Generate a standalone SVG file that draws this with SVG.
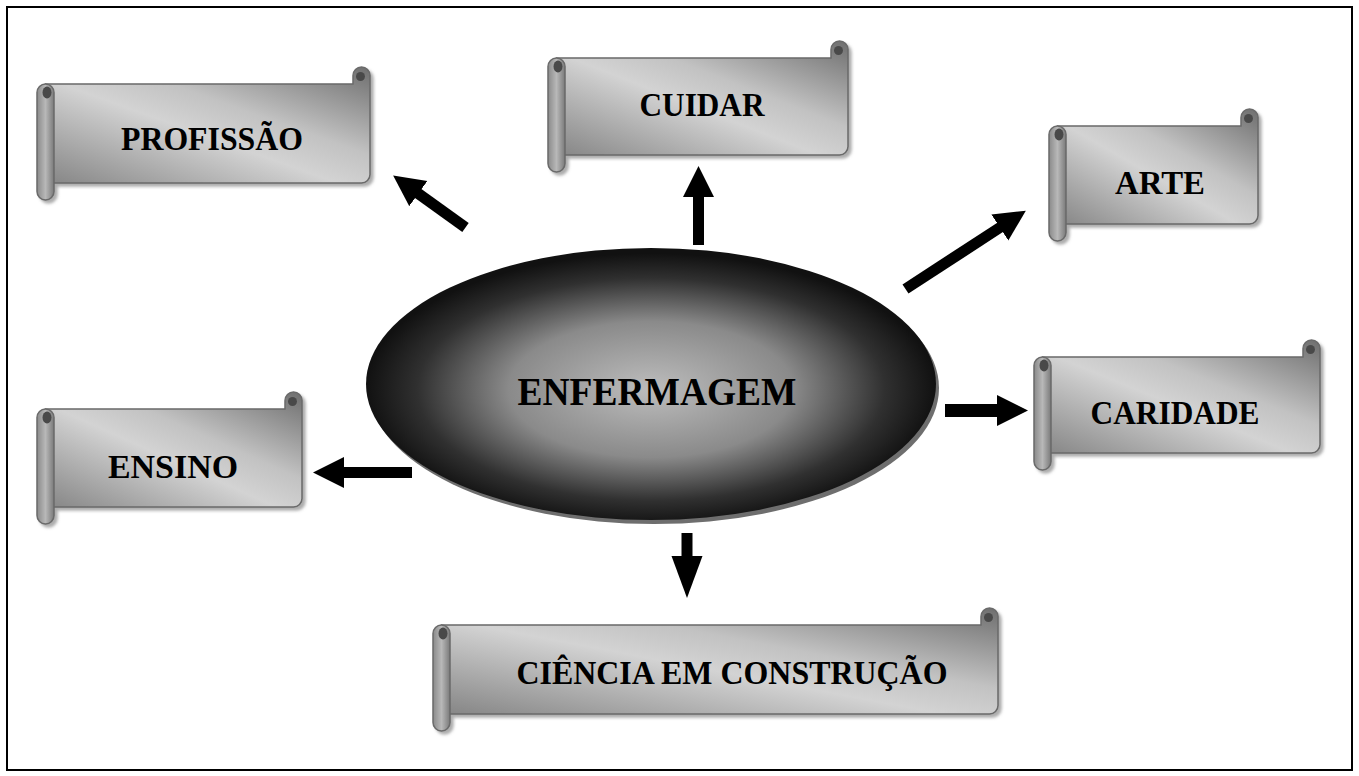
<svg xmlns="http://www.w3.org/2000/svg" width="1359" height="776" viewBox="0 0 1359 776">
<defs>
<linearGradient id="bodyG" x1="0" y1="1" x2="1" y2="0">
<stop offset="0" stop-color="#858585"/>
<stop offset="0.45" stop-color="#d3d3d3"/>
<stop offset="0.62" stop-color="#c2c2c2"/>
<stop offset="1" stop-color="#6e6e6e"/>
</linearGradient>
<linearGradient id="rollG" x1="0" y1="0" x2="1" y2="0">
<stop offset="0" stop-color="#8a8a8a"/>
<stop offset="0.5" stop-color="#b8b8b8"/>
<stop offset="1" stop-color="#7a7a7a"/>
</linearGradient>
<radialGradient id="ellG" cx="0.5" cy="0.52" r="0.5">
<stop offset="0" stop-color="#bdbdbd"/>
<stop offset="0.5" stop-color="#8a8a8a"/>
<stop offset="0.82" stop-color="#303030"/>
<stop offset="1" stop-color="#111"/>
</radialGradient>
<filter id="sh" x="-5%" y="-5%" width="115%" height="120%">
<feDropShadow dx="3" dy="3" stdDeviation="1.5" flood-color="#777" flood-opacity="0.6"/>
</filter>
<marker id="ah" markerUnits="userSpaceOnUse" markerWidth="32" markerHeight="32" viewBox="0 0 32 32" refX="1" refY="16" orient="auto">
<path d="M0,0.5 L31,16 L0,31.5 Z" fill="#000"/>
</marker>
<marker id="ahL" markerUnits="userSpaceOnUse" markerWidth="43" markerHeight="32" viewBox="0 0 43 32" refX="1" refY="16" orient="auto">
<path d="M0,0.5 L42,16 L0,31.5 Z" fill="#000"/>
</marker>
</defs>
<style>
.body{fill:url(#bodyG);stroke:#6a6a6a;stroke-width:1.5}
.roll{fill:url(#rollG);stroke:#6a6a6a;stroke-width:1.5}
.spiral{fill:#4a4a4a}
.lbl{font-family:"Liberation Serif","Times New Roman",serif;font-weight:bold;font-size:34px;fill:#000;text-anchor:middle}
.arr{stroke:#000;stroke-width:11;fill:none;stroke-linecap:butt}
</style>
<rect x="0" y="0" width="1359" height="776" fill="#fff"/>
<rect x="7" y="7" width="1345" height="763" fill="none" stroke="#000" stroke-width="2"/>

<g id="node-enfermagem">
<ellipse cx="654" cy="388" rx="285" ry="136" fill="#6e6e6e"/>
<ellipse cx="651" cy="384" rx="285" ry="136" fill="url(#ellG)"/>
<text x="657" y="405" class="lbl" style="font-size:41px" textLength="279" lengthAdjust="spacingAndGlyphs">ENFERMAGEM</text>
</g>

<g id="node-profissao">
<g transform="translate(37,67)" filter="url(#sh)">
<path class="body" d="M8.5,17 L316,17 L316,8.5 A8.5,8.5 0 0 1 333,8.5 L333,107.5 A8.5,8.5 0 0 1 324.5,116 L8.5,116 Z"/>
<circle class="spiral" cx="323.5" cy="9.5" r="4.5"/>
<rect class="roll" x="0" y="17" width="17" height="116" rx="8.5"/>
<ellipse class="spiral" cx="10" cy="25.5" rx="4.5" ry="6"/>
</g>
<text x="212" y="150" class="lbl" textLength="182" lengthAdjust="spacingAndGlyphs">PROFISSÃO</text>
</g>

<g id="node-cuidar">
<g transform="translate(548,41)" filter="url(#sh)">
<path class="body" d="M8.5,17 L283,17 L283,8.5 A8.5,8.5 0 0 1 300,8.5 L300,105.5 A8.5,8.5 0 0 1 291.5,114 L8.5,114 Z"/>
<circle class="spiral" cx="290.5" cy="9.5" r="4.5"/>
<rect class="roll" x="0" y="17" width="17" height="114" rx="8.5"/>
<ellipse class="spiral" cx="10" cy="25.5" rx="4.5" ry="6"/>
</g>
<text x="702" y="116" class="lbl" textLength="125" lengthAdjust="spacingAndGlyphs">CUIDAR</text>
</g>

<g id="node-arte">
<g transform="translate(1049,109)" filter="url(#sh)">
<path class="body" d="M8.5,17 L192,17 L192,8.5 A8.5,8.5 0 0 1 209,8.5 L209,106.5 A8.5,8.5 0 0 1 200.5,115 L8.5,115 Z"/>
<circle class="spiral" cx="199.5" cy="9.5" r="4.5"/>
<rect class="roll" x="0" y="17" width="17" height="115" rx="8.5"/>
<ellipse class="spiral" cx="10" cy="25.5" rx="4.5" ry="6"/>
</g>
<text x="1160" y="194" class="lbl" textLength="90" lengthAdjust="spacingAndGlyphs">ARTE</text>
</g>

<g id="node-caridade">
<g transform="translate(1034,340)" filter="url(#sh)">
<path class="body" d="M8.5,17 L269,17 L269,8.5 A8.5,8.5 0 0 1 286,8.5 L286,104.5 A8.5,8.5 0 0 1 277.5,113 L8.5,113 Z"/>
<circle class="spiral" cx="276.5" cy="9.5" r="4.5"/>
<rect class="roll" x="0" y="17" width="17" height="113" rx="8.5"/>
<ellipse class="spiral" cx="10" cy="25.5" rx="4.5" ry="6"/>
</g>
<text x="1175" y="424" class="lbl" textLength="169" lengthAdjust="spacingAndGlyphs">CARIDADE</text>
</g>

<g id="node-ensino">
<g transform="translate(37,392)" filter="url(#sh)">
<path class="body" d="M8.5,17 L248,17 L248,8.5 A8.5,8.5 0 0 1 265,8.5 L265,106.5 A8.5,8.5 0 0 1 256.5,115 L8.5,115 Z"/>
<circle class="spiral" cx="255.5" cy="9.5" r="4.5"/>
<rect class="roll" x="0" y="17" width="17" height="115" rx="8.5"/>
<ellipse class="spiral" cx="10" cy="25.5" rx="4.5" ry="6"/>
</g>
<text x="173" y="478" class="lbl" textLength="130" lengthAdjust="spacingAndGlyphs">ENSINO</text>
</g>

<g id="node-ciencia">
<g transform="translate(433,608)" filter="url(#sh)">
<path class="body" d="M8.5,17 L548,17 L548,8.5 A8.5,8.5 0 0 1 565,8.5 L565,97.5 A8.5,8.5 0 0 1 556.5,106 L8.5,106 Z"/>
<circle class="spiral" cx="555.5" cy="9.5" r="4.5"/>
<rect class="roll" x="0" y="17" width="17" height="106" rx="8.5"/>
<ellipse class="spiral" cx="10" cy="25.5" rx="4.5" ry="6"/>
</g>
<text x="732" y="684" class="lbl" textLength="431" lengthAdjust="spacingAndGlyphs">CIÊNCIA EM CONSTRUÇÃO</text>
</g>

<g id="connectors">
<line class="arr" x1="465.5" y1="227.5" x2="417.5" y2="193" marker-end="url(#ah)"/>
<line class="arr" x1="698.5" y1="245" x2="698.5" y2="196" marker-end="url(#ah)"/>
<line class="arr" x1="905.5" y1="289" x2="1000.7" y2="227" marker-end="url(#ah)"/>
<line class="arr" x1="945" y1="410.5" x2="998" y2="410.5" marker-end="url(#ah)" style="stroke-width:13"/>
<line class="arr" x1="412" y1="472.5" x2="343" y2="472.5" marker-end="url(#ah)"/>
<line class="arr" x1="687" y1="533" x2="687" y2="557" marker-end="url(#ahL)"/>
</g>
</svg>
